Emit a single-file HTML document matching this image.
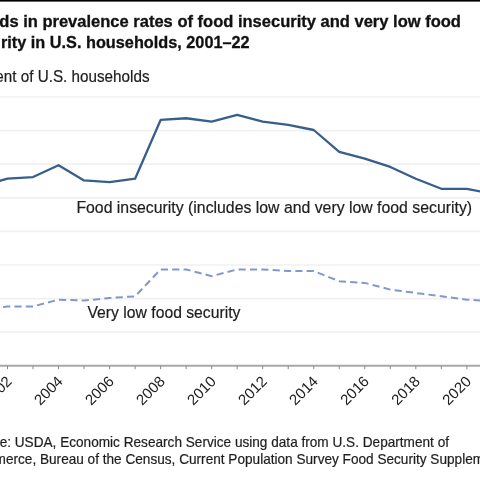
<!DOCTYPE html>
<html><head><meta charset="utf-8">
<style>
html,body{margin:0;padding:0;background:#fff;width:480px;height:480px;overflow:hidden}
svg{display:block;font-family:"Liberation Sans",sans-serif;will-change:transform}
</style></head><body>
<svg width="480" height="480" viewBox="0 0 480 480">
<rect x="0" y="0" width="480" height="480" fill="#fff"/>
<rect x="0" y="0" width="480" height="1.6" fill="#000"/>
<text transform="translate(-0.71,27.0) scale(1.0077,1)" x="0" y="0" font-size="16.4" font-weight="bold" stroke="#111" stroke-width="0.3" fill="#111">ds in prevalence rates of food insecurity and very low food</text>
<text transform="translate(1.01,47.8) scale(0.9928,1)" x="0" y="0" font-size="16.4" font-weight="bold" stroke="#111" stroke-width="0.3" fill="#111">rity in U.S. households, 2001–22</text>
<text transform="translate(-4.71,81.6) scale(0.9715,1)" x="0" y="0" font-size="15.7" stroke="#1e1e1e" stroke-width="0.2" fill="#1e1e1e">ent of U.S. households</text>
<g stroke="#f1f1f1" stroke-width="1.7"><line x1="-10" x2="490" y1="332.20" y2="332.20" /><line x1="-10" x2="490" y1="298.60" y2="298.60" /><line x1="-10" x2="490" y1="265.00" y2="265.00" /><line x1="-10" x2="490" y1="231.40" y2="231.40" /><line x1="-10" x2="490" y1="197.80" y2="197.80" /><line x1="-10" x2="490" y1="164.20" y2="164.20" /><line x1="-10" x2="490" y1="130.60" y2="130.60" /><line x1="-10" x2="490" y1="97.00" y2="97.00" /></g>
<line x1="-10" x2="490" y1="365.8" y2="365.8" stroke="#a9a9a9" stroke-width="2"/>
<g stroke="#8a8a8a" stroke-width="1"><line x1="-18.02" x2="-18.02" y1="365.80" y2="369.20" /><line x1="7.50" x2="7.50" y1="365.80" y2="369.20" /><line x1="33.02" x2="33.02" y1="365.80" y2="369.20" /><line x1="58.54" x2="58.54" y1="365.80" y2="369.20" /><line x1="84.06" x2="84.06" y1="365.80" y2="369.20" /><line x1="109.58" x2="109.58" y1="365.80" y2="369.20" /><line x1="135.10" x2="135.10" y1="365.80" y2="369.20" /><line x1="160.62" x2="160.62" y1="365.80" y2="369.20" /><line x1="186.14" x2="186.14" y1="365.80" y2="369.20" /><line x1="211.66" x2="211.66" y1="365.80" y2="369.20" /><line x1="237.18" x2="237.18" y1="365.80" y2="369.20" /><line x1="262.70" x2="262.70" y1="365.80" y2="369.20" /><line x1="288.22" x2="288.22" y1="365.80" y2="369.20" /><line x1="313.74" x2="313.74" y1="365.80" y2="369.20" /><line x1="339.26" x2="339.26" y1="365.80" y2="369.20" /><line x1="364.78" x2="364.78" y1="365.80" y2="369.20" /><line x1="390.30" x2="390.30" y1="365.80" y2="369.20" /><line x1="415.82" x2="415.82" y1="365.80" y2="369.20" /><line x1="441.34" x2="441.34" y1="365.80" y2="369.20" /><line x1="466.86" x2="466.86" y1="365.80" y2="369.20" /><line x1="492.38" x2="492.38" y1="365.80" y2="369.20" /><line x1="517.90" x2="517.90" y1="365.80" y2="369.20" /></g>
<polyline points="-18.02,185.44 7.50,178.72 33.02,177.04 58.54,165.28 84.06,180.40 109.58,182.08 135.10,178.72 160.62,119.92 186.14,118.24 211.66,121.60 237.18,114.88 262.70,121.60 288.22,124.96 313.74,130.00 339.26,151.84 364.78,158.56 390.30,166.96 415.82,178.72 441.34,188.80 466.86,188.80 492.38,193.84 517.90,150.16" fill="none" stroke="#385e8c" stroke-width="2.3" stroke-linejoin="round"/>
<polyline points="-18.02,309.76 7.50,306.40 33.02,306.40 58.54,299.68 84.06,300.52 109.58,298.00 135.10,296.32 160.62,269.44 186.14,269.44 211.66,276.16 237.18,269.44 262.70,269.44 288.22,271.12 313.74,271.12 339.26,281.20 364.78,282.88 390.30,289.60 415.82,292.96 441.34,296.32 466.86,299.68 492.38,301.36 517.90,279.52" fill="none" stroke="#8099cb" stroke-width="2.0" stroke-dasharray="7.2,4.157" stroke-dashoffset="1.40"/>
<text transform="translate(76.38,212.5) scale(1.0152,1)" x="0" y="0" font-size="15.6" stroke="#1e1e1e" stroke-width="0.2" fill="#1e1e1e">Food insecurity (includes low and very low food security)</text>
<text transform="translate(87.50,317.5) scale(1.0086,1)" x="0" y="0" font-size="15.6" stroke="#1e1e1e" stroke-width="0.2" fill="#1e1e1e">Very low food security</text>
<g font-size="15" fill="#1e1e1e"><text transform="translate(-38.34,382.30) rotate(-45)" text-anchor="end">2000</text><text transform="translate(12.70,382.30) rotate(-45)" text-anchor="end">2002</text><text transform="translate(63.74,382.30) rotate(-45)" text-anchor="end">2004</text><text transform="translate(114.78,382.30) rotate(-45)" text-anchor="end">2006</text><text transform="translate(165.82,382.30) rotate(-45)" text-anchor="end">2008</text><text transform="translate(216.86,382.30) rotate(-45)" text-anchor="end">2010</text><text transform="translate(267.90,382.30) rotate(-45)" text-anchor="end">2012</text><text transform="translate(318.94,382.30) rotate(-45)" text-anchor="end">2014</text><text transform="translate(369.98,382.30) rotate(-45)" text-anchor="end">2016</text><text transform="translate(421.02,382.30) rotate(-45)" text-anchor="end">2018</text><text transform="translate(472.06,382.30) rotate(-45)" text-anchor="end">2020</text><text transform="translate(523.10,382.30) rotate(-45)" text-anchor="end">2022</text></g>
<text transform="translate(-7.15,447.0) scale(0.9735,1)" x="0" y="0" font-size="14" stroke="#1e1e1e" stroke-width="0.2" fill="#1e1e1e">ce: USDA, Economic Research Service using data from U.S. Department of</text>
<text transform="translate(-5.43,464.2) scale(0.9736,1)" x="0" y="0" font-size="14" stroke="#1e1e1e" stroke-width="0.2" fill="#1e1e1e">merce, Bureau of the Census, Current Population Survey Food Security Supplements.</text>
</svg>
</body></html>
